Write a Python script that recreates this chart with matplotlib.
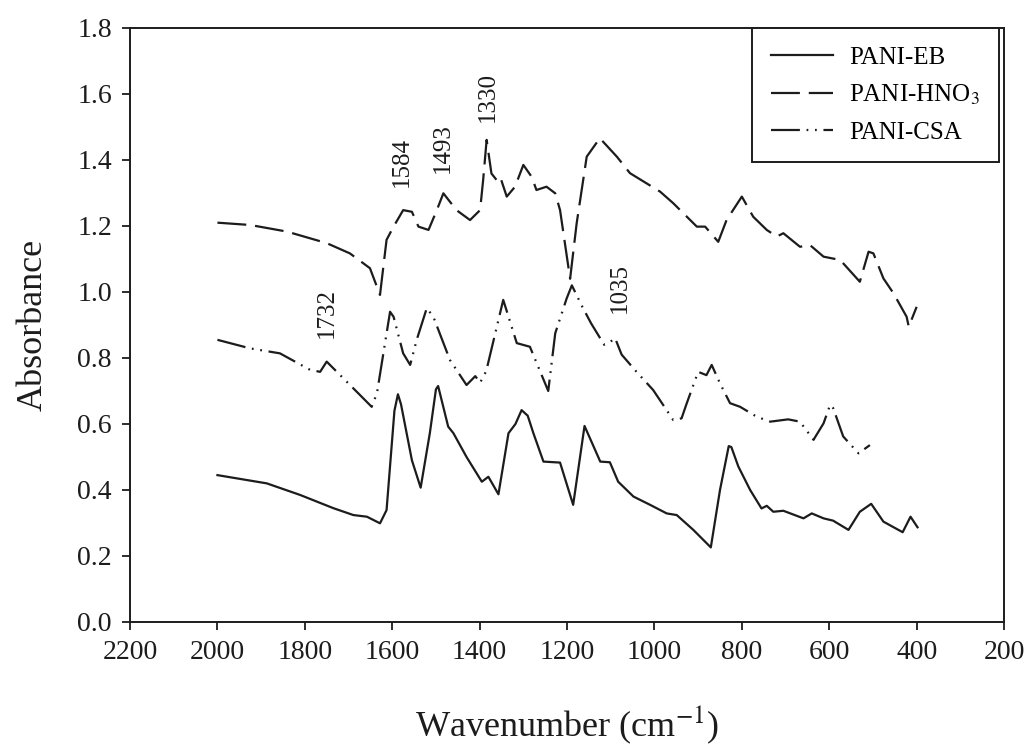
import matplotlib.pyplot as plt
import numpy as np

plt.rcParams['font.family'] = ['Liberation Serif', 'DejaVu Serif']
plt.rcParams['mathtext.fontset'] = 'stix'

# FTIR spectra (wavenumber in cm-1, absorbance)
eb_wn = [2000, 1887, 1811, 1735, 1689, 1658, 1628, 1613, 1595, 1587, 1580, 1555, 1535,
         1514, 1500, 1495, 1472, 1460, 1430, 1395, 1380, 1357, 1334, 1318, 1304, 1290,
         1277, 1254, 1216, 1186, 1160, 1124, 1102, 1083, 1048, 1010, 972, 949, 911, 871,
         850, 830, 824, 808, 781, 755, 743, 728, 705, 659, 640, 613, 591, 556, 530, 504,
         476, 432, 414, 398]
eb_abs = [0.445, 0.420, 0.385, 0.345, 0.324, 0.319, 0.299, 0.339, 0.640, 0.690, 0.660,
          0.490, 0.407, 0.572, 0.705, 0.715, 0.592, 0.572, 0.500, 0.425, 0.440, 0.387,
          0.572, 0.600, 0.642, 0.625, 0.572, 0.486, 0.483, 0.355, 0.594, 0.486, 0.484,
          0.425, 0.380, 0.355, 0.329, 0.324, 0.279, 0.226, 0.400, 0.533, 0.530, 0.471,
          0.400, 0.344, 0.352, 0.334, 0.337, 0.314, 0.329, 0.314, 0.307, 0.279, 0.334,
          0.358, 0.304, 0.272, 0.319, 0.287]

hno3_wn = [2000, 1925, 1841, 1750, 1697, 1651, 1628, 1624, 1613, 1597, 1575, 1555, 1540,
           1517, 1498, 1483, 1453, 1422, 1399, 1392, 1384, 1373, 1361, 1353, 1338, 1319,
           1300, 1281, 1270, 1247, 1227, 1216, 1193, 1178, 1155, 1125, 1086, 1056, 987,
           957, 903, 884, 854, 835, 800, 774, 743, 720, 705, 667, 644, 613, 575, 530, 510,
           499, 476, 453, 423, 418, 400]
hno3_abs = [1.210, 1.203, 1.183, 1.148, 1.117, 1.072, 0.991, 1.036, 1.158, 1.198, 1.248,
            1.243, 1.198, 1.188, 1.248, 1.299, 1.248, 1.218, 1.248, 1.339, 1.461, 1.359,
            1.339, 1.349, 1.289, 1.319, 1.385, 1.349, 1.309, 1.319, 1.299, 1.248, 1.040,
            1.208, 1.410, 1.466, 1.410, 1.360, 1.304, 1.269, 1.198, 1.198, 1.152, 1.218,
            1.289, 1.228, 1.188, 1.168, 1.178, 1.137, 1.142, 1.107, 1.097, 1.031, 1.122,
            1.117, 1.041, 0.996, 0.925, 0.895, 0.955]

csa_wn = [2000, 1925, 1857, 1788, 1765, 1750, 1735, 1674, 1647, 1635, 1605, 1597, 1575,
          1559, 1544, 1521, 1506, 1468, 1430, 1410, 1399, 1385, 1346, 1315, 1285, 1243,
          1227, 1201, 1189, 1165, 1145, 1115, 1100, 1090, 1075, 1041, 1003, 957, 938, 926,
          900, 881, 869, 850, 827, 804, 766, 735, 694, 667, 636, 613, 598, 591, 568, 533,
          507]
csa_abs = [0.855, 0.829, 0.814, 0.764, 0.758, 0.789, 0.769, 0.688, 0.652, 0.693, 0.940,
           0.925, 0.814, 0.779, 0.855, 0.951, 0.925, 0.794, 0.718, 0.745, 0.725, 0.760,
           0.976, 0.845, 0.834, 0.700, 0.875, 0.980, 1.020, 0.955, 0.905, 0.840, 0.850,
           0.860, 0.810, 0.758, 0.703, 0.612, 0.617, 0.663, 0.758, 0.748, 0.779, 0.723,
           0.663, 0.652, 0.622, 0.607, 0.614, 0.607, 0.552, 0.602, 0.658, 0.648, 0.562,
           0.511, 0.536]

peak_labels = ['1732', '1584', '1493', '1330', '1035']
label_x = [1749, 1578, 1484, 1381, 1079]
label_y = [0.861, 1.318, 1.360, 1.515, 0.936]

ink = '#1c1c1c'
fig = plt.figure(figsize=(10.28, 7.5), dpi=100)
ax = fig.add_axes([0.1265, 0.1707, 0.8502, 0.792])

ax.plot(eb_wn, eb_abs, color=ink, lw=1.6, label='PANI-EB')
ax.plot(hno3_wn, hno3_abs, color=ink, lw=1.6, dashes=(13, 4), label='PANI-HNO$_3$')
ax.plot(csa_wn, csa_abs, color=ink, lw=1.6, dashes=(13, 3, 0.8, 3, 0.8, 3),
        label='PANI-CSA')

for txt, x, y in zip(peak_labels, label_x, label_y):
    ax.text(x, y, txt, rotation=90, ha='center', va='bottom', fontsize=18, color=ink)

ax.set_xlim(2200, 200)
ax.set_ylim(0, 1.8)
ax.set_xticks(np.arange(2200, 199, -200))
ax.set_yticks(np.arange(0, 1.81, 0.2))
ax.yaxis.set_major_formatter(plt.FormatStrFormatter('%.1f'))
ax.tick_params(direction='out', length=6, width=1.3, labelsize=20, colors=ink,
               top=False, right=False, pad=7)
for s in ax.spines.values():
    s.set_linewidth(1.4)
    s.set_color(ink)

ax.set_xlabel('Wavenumber (cm$^{-1}$)', fontsize=26, labelpad=28, color=ink)
ax.set_ylabel('Absorbance', fontsize=26, labelpad=20, color=ink)

leg = ax.legend(loc='upper right', bbox_to_anchor=(0.9943, 1.0), borderaxespad=0,
                fontsize=18, frameon=True, fancybox=False, framealpha=1,
                edgecolor=ink, handlelength=2.5, handletextpad=0.65,
                labelspacing=0.55, borderpad=0.75)
leg.get_frame().set_linewidth(1.4)

fig.savefig('out.png', dpi=100)
